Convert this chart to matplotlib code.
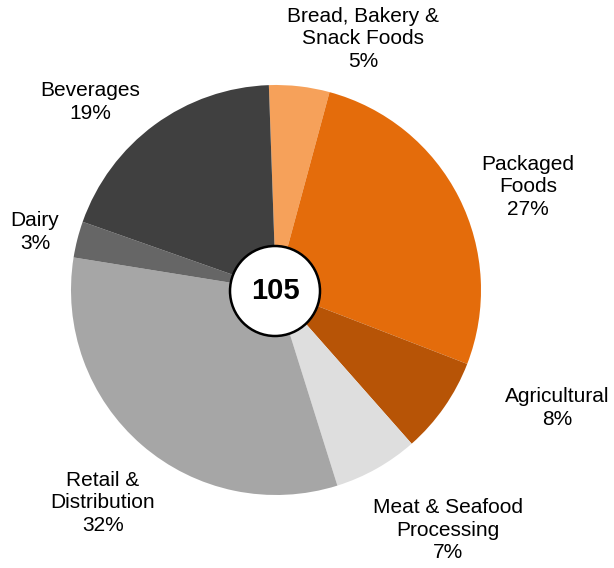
import matplotlib
matplotlib.use("Agg")
import matplotlib.pyplot as plt
from matplotlib.patches import Circle

categories = ["Bread, Bakery &\nSnack Foods", "Packaged\nFoods", "Agricultural",
              "Meat & Seafood\nProcessing", "Retail &\nDistribution", "Dairy", "Beverages"]
counts = [5, 28, 8, 7, 34, 3, 20]
total = sum(counts)
colors = ["#F6A15A", "#E46C0B", "#B75406", "#DEDEDE", "#A6A6A6", "#666666", "#404040"]

# label anchor positions (pixel coords, top-left origin) – layout only
label_pos = [(363, 39), (528, 187), (557, 408), (448, 530), (103, 503), (35, 232), (90, 102)]

W, H = 614, 568
fig = plt.figure(figsize=(W / 100, H / 100), dpi=100)
ax = fig.add_axes([0, 0, 1, 1])
ax.set_xlim(0, W)
ax.set_ylim(0, H)
ax.set_aspect("equal")
ax.axis("off")

cx, cy, r = 276, H - 290, 205
ax.pie(counts, colors=colors, startangle=92, counterclock=False,
       center=(cx, cy), radius=r, frame=True,
       wedgeprops=dict(linewidth=0))
ax.set_xlim(0, W)
ax.set_ylim(0, H)
ax.axis("off")

ax.add_patch(Circle((cx - 1, cy - 1), 45, facecolor="white", edgecolor="black", linewidth=1.8, zorder=5))
ax.text(cx - 1, cy - 1, str(total), ha="center", va="center", fontsize=21, fontweight="bold",
        family="Liberation Sans", zorder=6)

for cat, c, (x, y) in zip(categories, counts, label_pos):
    pct = round(100 * c / total)
    ax.text(x, H - y, f"{cat}\n{pct}%", ha="center", va="center", fontsize=15,
            family="Liberation Sans", linespacing=1.22)

fig.savefig("out.png", dpi=100)
